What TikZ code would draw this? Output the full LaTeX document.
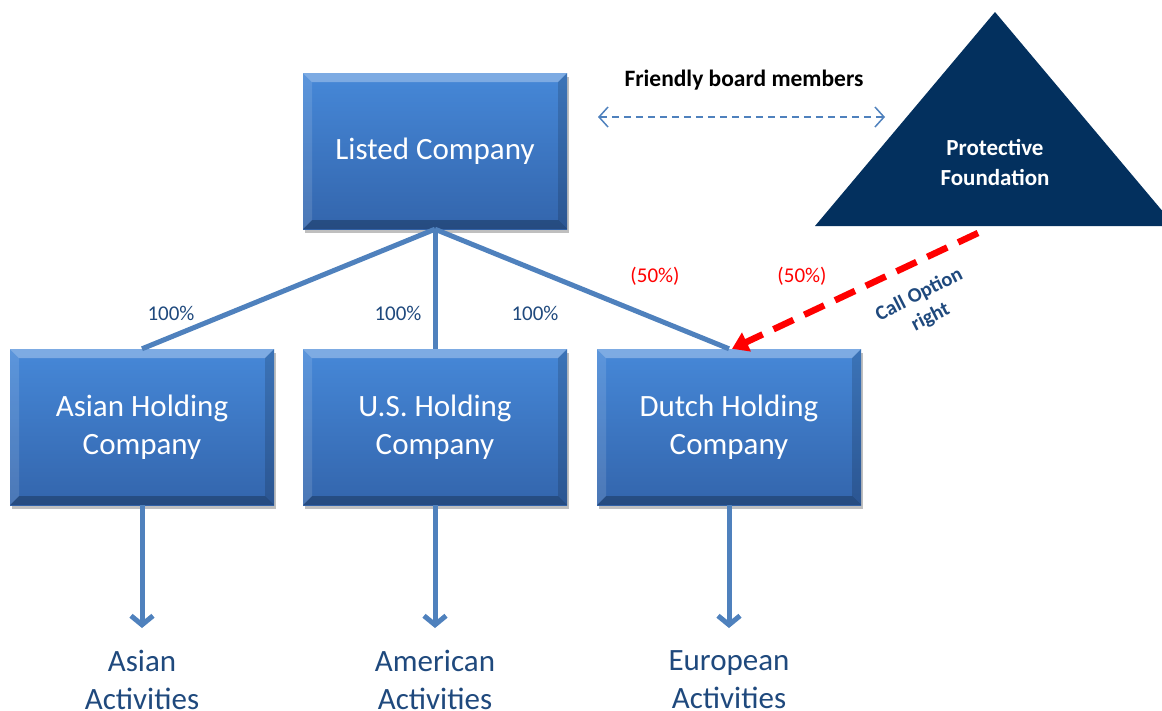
\documentclass[tikz,border=0pt]{standalone}
\usepackage{fontspec}
\setmainfont{Carlito}
\usetikzlibrary{arrows.meta,shadows,calc}
\definecolor{boxtop}{HTML}{4688D8}
\definecolor{boxbot}{HTML}{3365AC}
\definecolor{lineblue}{HTML}{4F81BD}
\definecolor{textblue}{HTML}{1F497D}
\definecolor{navy}{HTML}{03305E}
\definecolor{redline}{HTML}{FF0000}
\begin{document}
\begin{tikzpicture}[x=1pt,y=-1pt,
  hbox/.style={minimum width=264pt, minimum height=156pt, inner sep=0pt,
    text=white, font=\fontsize{31}{38}\selectfont, align=center,
    top color=boxtop, bottom color=boxbot,
    drop shadow={shadow xshift=2pt, shadow yshift=-4pt, opacity=.25, fill=black},
    path picture={
      \fill[white, opacity=.30] (path picture bounding box.north west) -- (path picture bounding box.north east)
        -- ([shift={(-9pt,-9pt)}]path picture bounding box.north east) -- ([shift={(9pt,-9pt)}]path picture bounding box.north west) -- cycle;
      \fill[black, opacity=.25] (path picture bounding box.south west) -- (path picture bounding box.south east)
        -- ([shift={(-9pt,9pt)}]path picture bounding box.south east) -- ([shift={(9pt,9pt)}]path picture bounding box.south west) -- cycle;
      \fill[white, opacity=.12] (path picture bounding box.north west) -- ([shift={(9pt,-9pt)}]path picture bounding box.north west)
        -- ([shift={(9pt,9pt)}]path picture bounding box.south west) -- (path picture bounding box.south west) -- cycle;
      \fill[black, opacity=.15] (path picture bounding box.north east) -- ([shift={(-9pt,-9pt)}]path picture bounding box.north east)
        -- ([shift={(-9pt,9pt)}]path picture bounding box.south east) -- (path picture bounding box.south east) -- cycle;
    }},
  conn/.style={draw=lineblue, line width=5pt},
  darr/.style={conn, -{Straight Barb[length=9pt,width=22pt]}},
  pct/.style={text=textblue, font=\fontsize{21}{24}\selectfont, inner sep=0pt},
  redpct/.style={text=redline, font=\fontsize{21}{24}\selectfont, inner sep=0pt},
  act/.style={text=textblue, font=\fontsize{31}{38}\selectfont, align=center, inner sep=0pt},
  friendarr/.style={draw=lineblue, line width=1.5pt, dash pattern=on 7pt off 5pt,
    {Straight Barb[length=9pt,width=20pt,line width=1.5pt]}-{Straight Barb[length=9pt,width=20pt,line width=1.5pt]}},
  callarr/.style={draw=redline, line width=6.5pt, dash pattern=on 22pt off 12pt,
    -{Triangle[length=16pt,width=20pt]}}
]
\useasboundingbox (0,0) rectangle (1162,710);
\clip (0,0) rectangle (1162,710);

% triangle
\fill[navy] (995,12) -- (815,226) -- (1175,226) -- cycle;
\node[text=white, font=\bfseries\fontsize{23}{30}\selectfont, align=center] (pf) at (995,162) {Protective\\Foundation};

% boxes
\node[hbox] (lc) at (435,151) {Listed Company};
\node[hbox] (asian) at (142,427) {Asian Holding\\Company};
\node[hbox] (us) at (435,427) {U.S. Holding\\Company};
\node[hbox] (dutch) at (729,427) {Dutch Holding\\Company};

% ownership lines
\draw[conn] (lc.south) -- (asian.north);
\draw[conn] (lc.south) -- (us.north);
\draw[conn] (lc.south) -- (dutch.north);

\node[pct] (p1) at (171,313) {100\%};
\node[pct] (p2) at (398,313) {100\%};
\node[pct] (p3) at (535,313) {100\%};
\node[redpct] (r1) at (655,276) {(50\%)};
\node[redpct] (r2) at (802,276) {(50\%)};

% friendly board members
\node[font=\bfseries\fontsize{23.5}{28}\selectfont, text=black] (fb) at (744,80) {Friendly board members};
\coordinate (fbl) at (598,117);
\coordinate (fbr) at (885,117);
\draw[friendarr] (fbl) -- (fbr);

% call option
\coordinate (cstart) at (978,233);
\draw[callarr] (cstart) -- ($(dutch.north)+(3pt,0pt)$);
\node[rotate=27, text=textblue, font=\bfseries\fontsize{20.5}{25}\selectfont, align=center, inner sep=0pt] (call) at (925,306) {Call Option\\right};

% activities
\node[act] (aa) at (142,680) {Asian\\Activities};
\node[act] (am) at (435,680) {American\\Activities};
\node[act] (eu) at (729,680) {European\\Activities};
\coordinate (ae1) at (142,628);
\coordinate (ae2) at (435,628);
\coordinate (ae3) at (729,628);
\draw[darr] (asian.south) -- (ae1);
\draw[darr] (us.south) -- (ae2);
\draw[darr] (dutch.south) -- (ae3);
\end{tikzpicture}
\end{document}
